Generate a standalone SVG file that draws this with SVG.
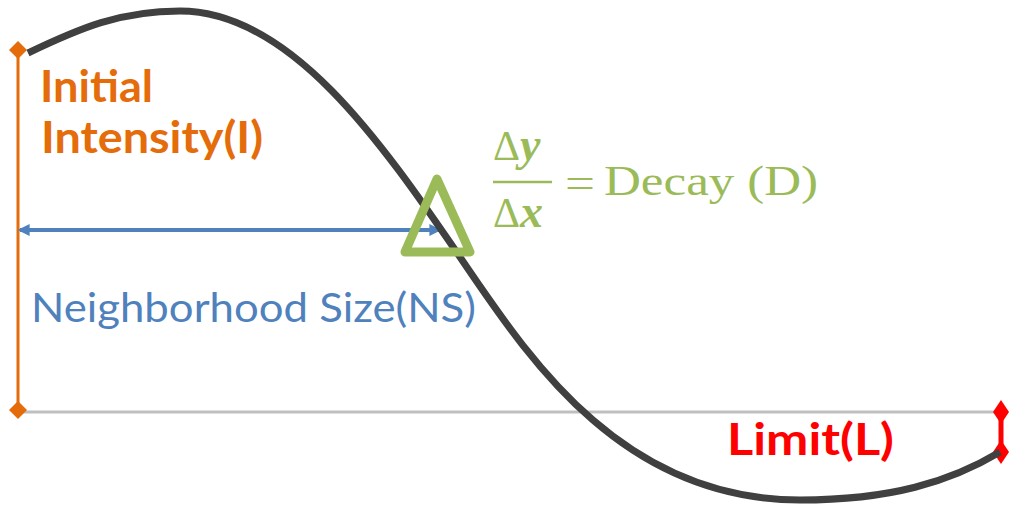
<svg xmlns="http://www.w3.org/2000/svg" width="1010" height="510" viewBox="0 0 1010 510">
<defs>
<style>
.orange{fill:#E46C0A;font-family:Lato,"Open Sans",sans-serif;font-weight:bold;font-size:44px}
.blue{fill:#4F81BD;font-family:Lato,"Open Sans",sans-serif;font-size:40px}
.red{fill:#FF0000;font-family:Lato,"Open Sans",sans-serif;font-weight:bold;font-size:44px}
.math{fill:#9BBB59;font-family:"Liberation Serif","DejaVu Serif",serif;font-size:42px}
.var{font-weight:bold;font-style:italic;font-size:46px}
</style>
<marker id="bArrow" viewBox="0 0 10 10" refX="8" refY="5" markerWidth="3" markerHeight="3" orient="auto-start-reverse">
<path d="M0,0 L10,5 L0,10 z" fill="#4F81BD"/>
</marker>
</defs>
<g id="baseline">
<line x1="17" y1="412" x2="1000" y2="412" stroke="#BFBFBF" stroke-width="3"/>
</g>
<g id="connectors">
<line x1="18" y1="50" x2="18" y2="410" stroke="#E46C0A" stroke-width="3"/>
<path d="M18,41 L27,50 L18,59 L9,50 z" fill="#E46C0A"/>
<path d="M18,401 L27,410 L18,419 L9,410 z" fill="#E46C0A"/>
<line x1="20" y1="230" x2="439" y2="230" stroke="#4F81BD" stroke-width="4" marker-start="url(#bArrow)" marker-end="url(#bArrow)"/>
<line x1="1001" y1="412" x2="1001" y2="452" stroke="#FF0000" stroke-width="5"/>
<path d="M1001,400 L1009,412 L1001,424 L993,412 z" fill="#FF0000"/>
<path d="M1001,440 L1009,452 L1001,464 L993,452 z" fill="#FF0000"/>
</g>
<g id="curve">
<path d="M28,53 C80,28 120,11 180,11 C290,11 380,140 462,260 C527,355 620,500 800,500 C890,500 950,482 1000,452" fill="none" stroke="#404040" stroke-width="7"/>
</g>
<g id="triangle">
<path d="M437,179 L470,252 L405,252 z" fill="none" stroke="#9BBB59" stroke-width="9" stroke-linejoin="round"/>
</g>
<g id="label-initial">
<text class="orange" x="40" y="102" textLength="113" lengthAdjust="spacingAndGlyphs">Initial</text>
<text class="orange" x="41" y="153" textLength="222" lengthAdjust="spacingAndGlyphs">Intensity(I)</text>
</g>
<g id="label-ns">
<text class="blue" x="31" y="322" textLength="445" lengthAdjust="spacingAndGlyphs">Neighborhood  Size(NS)</text>
</g>
<g id="label-limit">
<text class="red" x="727" y="455" textLength="167" lengthAdjust="spacingAndGlyphs">Limit(L)</text>
</g>
<g id="label-decay">
<text class="math" x="493" y="160" font-size="44">Δ<tspan class="var">y</tspan></text>
<line x1="493" y1="182" x2="552" y2="182" stroke="#9BBB59" stroke-width="2.5"/>
<text class="math" x="493" y="227" font-size="44">Δ<tspan class="var">x</tspan></text>
<text class="math" x="565" y="197" font-size="50" textLength="30" lengthAdjust="spacingAndGlyphs">=</text>
<text class="math" x="604" y="195" textLength="214" lengthAdjust="spacingAndGlyphs">Decay (D)</text>
</g>
</svg>
